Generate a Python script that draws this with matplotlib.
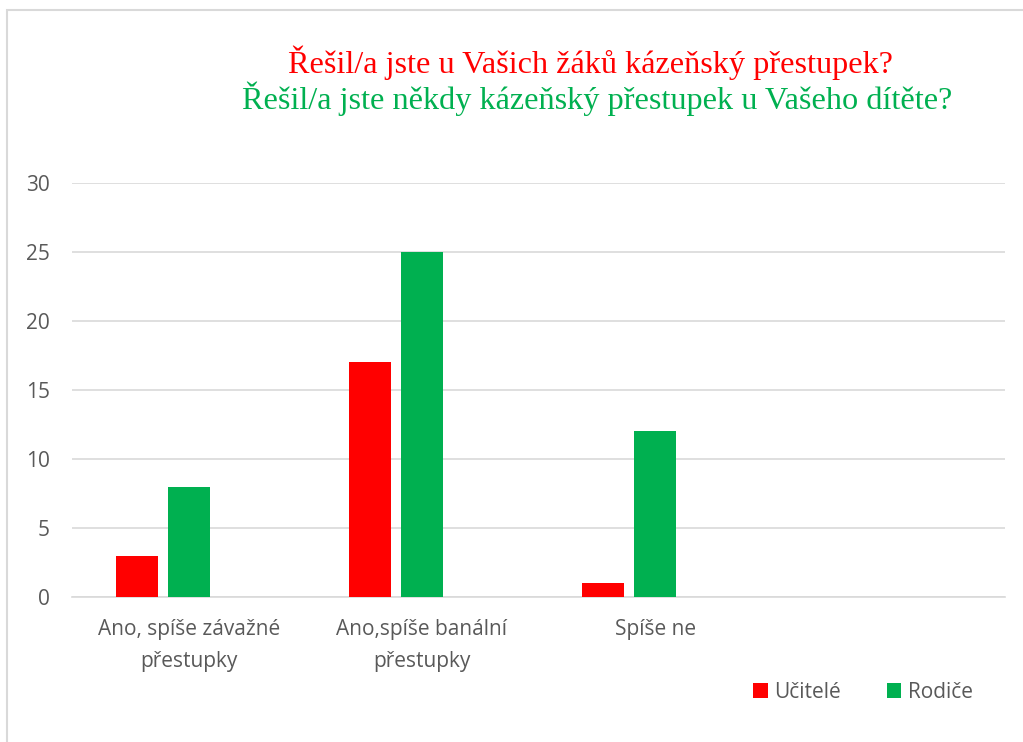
import matplotlib.pyplot as plt
import numpy as np
from matplotlib.patches import Rectangle

categories = ["Ano, spíše závažné\npřestupky", "Ano,spíše banální\npřestupky", "Spíše ne", ""]
ucitele = [3, 17, 1, np.nan]
rodice = [8, 25, 12, np.nan]
yticks = [0, 5, 10, 15, 20, 25, 30]

red = "#ff0000"
green = "#00b050"
grey = "#595959"

plt.rcParams["font.family"] = ["Open Sans", "DejaVu Sans"]

fig = plt.figure(figsize=(10.23, 7.42), dpi=100)
ax = fig.add_axes([72 / 1023, 145 / 742, (1005 - 72) / 1023, (597 - 183) / 742])

x = np.arange(len(categories))
w = 0.18
step = 0.223
ax.bar(x - step, ucitele, width=w, color=red, label="Učitelé", zorder=3)
ax.bar(x, rodice, width=w, color=green, label="Rodiče", zorder=3)

ax.set_xlim(-0.5, len(categories) - 0.5)
ax.set_ylim(0, 30)
ax.set_yticks(yticks)
ax.set_xticks(x)
ax.set_xticklabels(categories, fontsize=15, color=grey, linespacing=1.68)
ax.tick_params(axis="y", labelsize=15, labelcolor=grey, length=0, pad=16)
ax.tick_params(axis="x", length=0, pad=16)
ax.grid(axis="y", color="#d9d9d9", linewidth=1.2, zorder=0)
for s in ["top", "right", "left"]:
    ax.spines[s].set_visible(False)
ax.spines["bottom"].set_color("#d9d9d9")
ax.spines["bottom"].set_linewidth(1.2)

fig.text(590 / 1023, 1 - 63 / 742, "Řešil/a jste u Vašich žáků kázeňský přestupek?",
         family="Liberation Serif", fontsize=23.2, color=red, ha="center", va="center")
fig.text(597 / 1023, 1 - 99 / 742, "Řešil/a jste někdy kázeňský přestupek u Vašeho dítěte?",
         family="Liberation Serif", fontsize=23.2, color=green, ha="center", va="center")

fig.legend(loc="center", bbox_to_anchor=(863 / 1023, 1 - 692 / 742), ncol=2, frameon=False,
           fontsize=15, labelcolor=grey, handlelength=0.7, handleheight=0.7,
           handletextpad=0.3, columnspacing=2.2)

# outer chart frame
fig.add_artist(Rectangle((7 / 1023, -0.1), 1.2, 1 - 10 / 742 + 0.1, transform=fig.transFigure,
                         fill=False, edgecolor="#d9d9d9", linewidth=1.5))

fig.savefig("out.png", dpi=100)
